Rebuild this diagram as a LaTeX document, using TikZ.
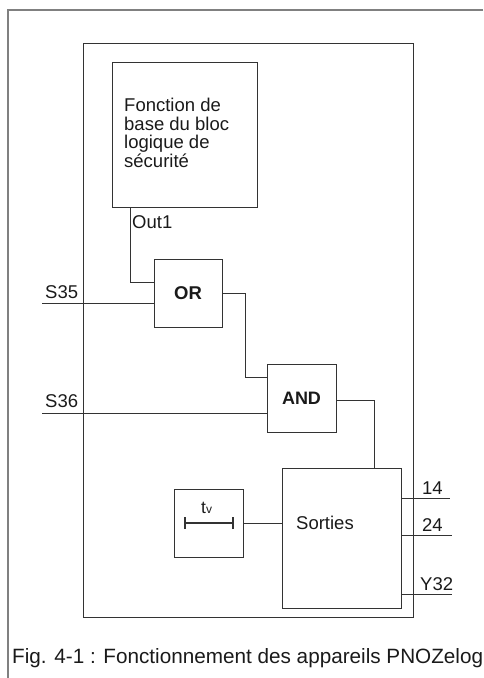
\documentclass[tikz,border=0pt]{standalone}
\usepackage{fontspec}
\setmainfont{Liberation Sans}
\begin{document}
\begin{tikzpicture}[x=1pt,y=-1pt,
  blk/.style={draw=boxgray,line width=1pt},
  wire/.style={draw=boxgray,line width=1pt},
  lbl/.style={inner sep=0pt,anchor=base west,text=txt,font=\fontsize{18.5}{18.5}\selectfont},
  frameline/.style={draw=framegray,line width=1.6pt}]
\definecolor{boxgray}{HTML}{333333}
\definecolor{framegray}{HTML}{808080}
\definecolor{txt}{HTML}{1A1A1A}
\useasboundingbox (0,0) rectangle (483,678);
% outer frame
\coordinate (fTL) at (8,10);
\coordinate (fTR) at (483,10);
\coordinate (fBL) at (8,678);
\draw[frameline] (fTR) -- (fTL) -- (fBL);
% inner box
\draw[blk] (83,43) rectangle (413,617);
% blocks
\node[blk,minimum width=145pt,minimum height=145pt,inner sep=0pt,anchor=north west] (base) at (112,62) {};
\node[lbl,align=left,anchor=north west,font=\fontsize{18.5}{18.5}\selectfont] (basetxt) at (124,98) {Fonction de\\base du bloc\\logique de\\sécurité};
\node[blk,minimum width=68pt,minimum height=68pt,inner sep=0pt,font=\fontsize{18.5}{18.5}\selectfont\bfseries,text=txt] (or) at (188,293) {OR};
\node[blk,minimum width=69pt,minimum height=68pt,inner sep=0pt,font=\fontsize{18}{18}\selectfont\bfseries,text=txt] (and) at (301.5,398) {AND};
\node[blk,minimum width=119pt,minimum height=140pt,inner sep=0pt,anchor=north west] (sort) at (282,468) {};
\node[lbl] (sorttxt) at (296,529) {Sorties};
\node[blk,minimum width=69pt,minimum height=68pt,inner sep=0pt,anchor=north west] (tv) at (174,489) {};
\node[lbl,font=\fontsize{17.5}{17.5}\selectfont] (tvtxt) at (201,513) {t{\fontsize{12}{12}\selectfont v}};
% timer bar
\coordinate (tbL) at (185,523);
\coordinate (tbR) at (233,523);
\draw[draw=boxgray,line width=2pt] (tbL) -- (tbR);
\draw[draw=boxgray,line width=2pt] ([yshift=-6pt]tbL) -- ([yshift=6pt]tbL);
\draw[draw=boxgray,line width=2pt] ([yshift=-6pt]tbR) -- ([yshift=6pt]tbR);
% connectors
\draw[wire] (130,207) -- (130,282) -- (or.west |- 0,282);
\node[lbl] (out1) at (132,228) {Out1};
\coordinate (s35) at (42,303);
\draw[wire] (s35) -- (or.west |- s35);
\node[lbl] (s35t) at (45,298) {S35};
\draw[wire] (or.east |- 0,293) -- (245,293) -- (245,377) -- (and.west |- 0,377);
\coordinate (s36) at (42,413);
\draw[wire] (s36) -- (and.west |- s36);
\node[lbl] (s36t) at (45,407) {S36};
\draw[wire] (and.east |- 0,400) -- (374,400) -- (sort.north -| 374,0);
\draw[wire] (tv.east) -- (sort.west |- tv.east);
% outputs
\coordinate (o14) at (450,498);
\coordinate (o24) at (452,535);
\coordinate (oY) at (452,594);
\draw[wire] (sort.east |- o14) -- (o14);
\draw[wire] (sort.east |- o24) -- (o24);
\draw[wire] (sort.east |- oY) -- (oY);
\node[lbl] (l14) at (422,494) {14};
\node[lbl] (l24) at (422,531) {24};
\node[lbl] (lY) at (420,590) {Y32};
% caption
\node[lbl,font=\fontsize{20.7}{20.7}\selectfont] (cap) at (12,663) {Fig. 4-1 : Fonctionnement des appareils PNOZelog};
\end{tikzpicture}
\end{document}
